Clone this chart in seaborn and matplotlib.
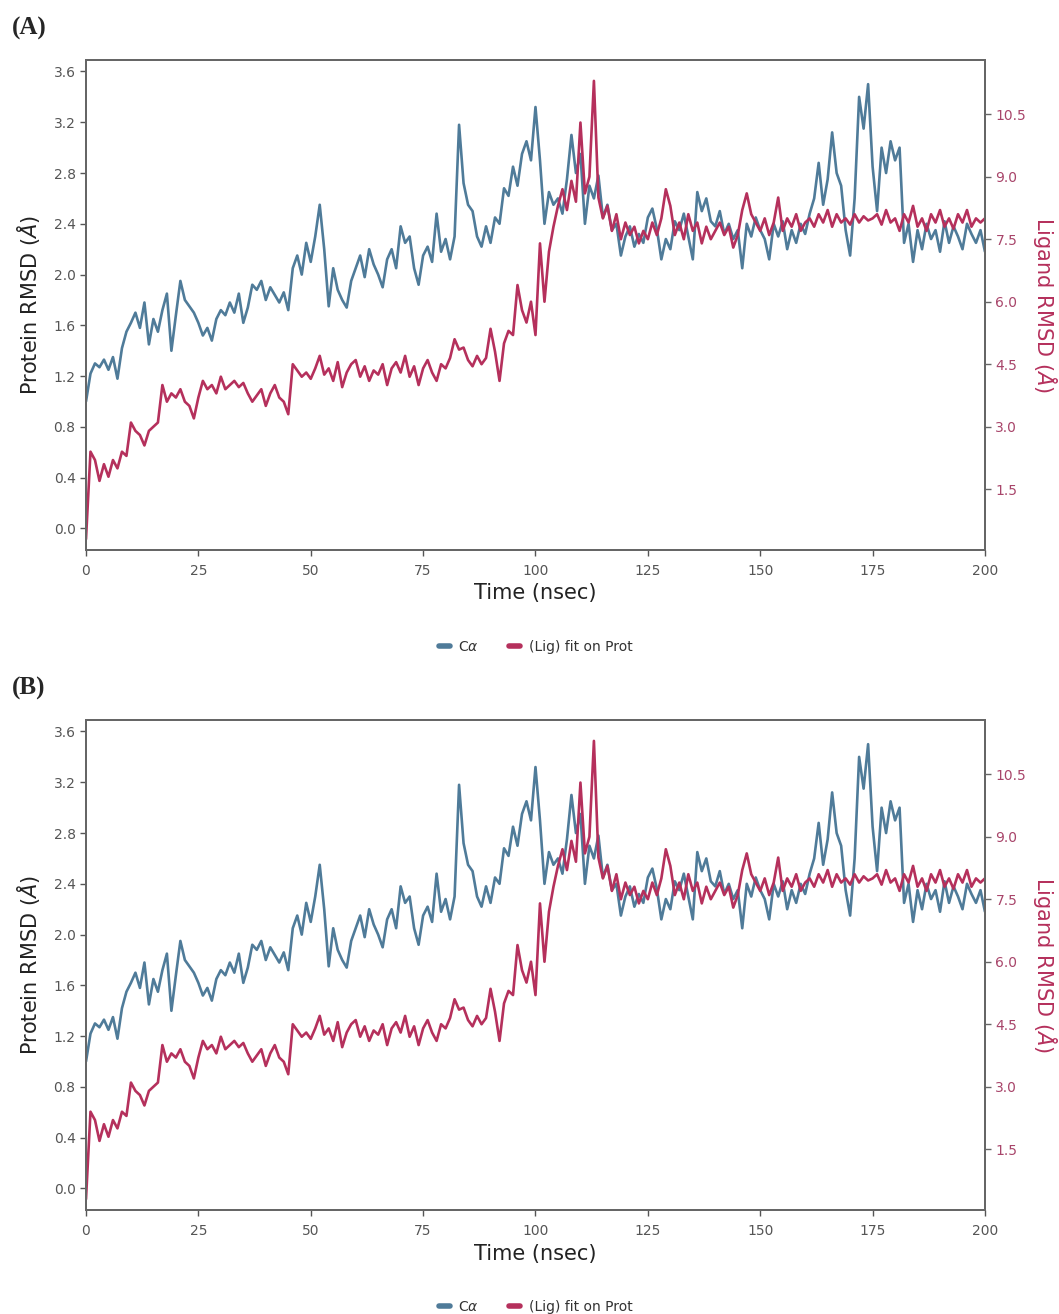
import numpy as np
import pandas as pd
import seaborn as sns
import matplotlib.pyplot as plt

# RMSD traces, one value per nsec (0..200)

time_ns = list(range(0, 201))

protein_rmsd = [
    1.00, 1.22, 1.30, 1.27, 1.33, 1.25, 1.35, 1.18, 1.42, 1.55,
    1.62, 1.70, 1.58, 1.78, 1.45, 1.65, 1.55, 1.72, 1.85, 1.40,
    1.68, 1.95, 1.80, 1.75, 1.70, 1.62, 1.52, 1.58, 1.48, 1.65,
    1.72, 1.68, 1.78, 1.70, 1.85, 1.62, 1.74, 1.92, 1.88, 1.95,
    1.80, 1.90, 1.84, 1.78, 1.86, 1.72, 2.05, 2.15, 2.00, 2.25,
    2.10, 2.30, 2.55, 2.20, 1.75, 2.05, 1.88, 1.80, 1.74, 1.95,
    2.05, 2.15, 1.98, 2.20, 2.08, 2.00, 1.90, 2.12, 2.20, 2.05,
    2.38, 2.25, 2.30, 2.05, 1.92, 2.15, 2.22, 2.10, 2.48, 2.18,
    2.28, 2.12, 2.30, 3.18, 2.72, 2.55, 2.50, 2.30, 2.22, 2.38,
    2.25, 2.45, 2.40, 2.68, 2.62, 2.85, 2.70, 2.95, 3.05, 2.90,
    3.32, 2.90, 2.40, 2.65, 2.55, 2.60, 2.48, 2.75, 3.10, 2.80,
    2.95, 2.40, 2.70, 2.60, 2.78, 2.45, 2.55, 2.35, 2.40, 2.15,
    2.30, 2.38, 2.22, 2.32, 2.25, 2.45, 2.52, 2.36, 2.12, 2.28,
    2.20, 2.42, 2.35, 2.48, 2.30, 2.12, 2.65, 2.50, 2.60, 2.42,
    2.38, 2.50, 2.32, 2.40, 2.28, 2.35, 2.05, 2.40, 2.30, 2.45,
    2.35, 2.28, 2.12, 2.40, 2.30, 2.42, 2.20, 2.35, 2.25, 2.40,
    2.32, 2.48, 2.60, 2.88, 2.55, 2.75, 3.12, 2.80, 2.70, 2.35,
    2.15, 2.60, 3.40, 3.15, 3.50, 2.85, 2.50, 3.00, 2.80, 3.05,
    2.90, 3.00, 2.25, 2.40, 2.10, 2.35, 2.20, 2.40, 2.28, 2.35,
    2.18, 2.42, 2.25, 2.38, 2.30, 2.20, 2.40, 2.32, 2.25, 2.35,
    2.18,
]

ligand_rmsd = [
    0.30, 2.40, 2.20, 1.70, 2.10, 1.80, 2.20, 2.00, 2.40, 2.30,
    3.10, 2.90, 2.80, 2.55, 2.90, 3.00, 3.10, 4.00, 3.60, 3.80,
    3.70, 3.90, 3.60, 3.50, 3.20, 3.70, 4.10, 3.90, 4.00, 3.80,
    4.20, 3.90, 4.00, 4.10, 3.95, 4.05, 3.80, 3.60, 3.75, 3.90,
    3.50, 3.80, 4.00, 3.70, 3.60, 3.30, 4.50, 4.35, 4.20, 4.30,
    4.15, 4.40, 4.70, 4.25, 4.40, 4.10, 4.55, 3.95, 4.30, 4.50,
    4.60, 4.20, 4.45, 4.10, 4.35, 4.25, 4.50, 4.00, 4.40, 4.55,
    4.30, 4.70, 4.20, 4.45, 4.00, 4.40, 4.60, 4.30, 4.10, 4.50,
    4.40, 4.65, 5.10, 4.85, 4.90, 4.60, 4.45, 4.70, 4.50, 4.65,
    5.35, 4.80, 4.10, 5.00, 5.30, 5.20, 6.40, 5.80, 5.50, 6.00,
    5.20, 7.40, 6.00, 7.20, 7.80, 8.30, 8.70, 8.20, 8.90, 8.40,
    10.30, 8.60, 9.00, 11.30, 8.50, 8.00, 8.30, 7.70, 8.10, 7.50,
    7.90, 7.60, 7.80, 7.40, 7.70, 7.50, 7.90, 7.60, 8.00, 8.70,
    8.30, 7.60, 7.90, 7.50, 8.10, 7.70, 7.90, 7.40, 7.80, 7.50,
    7.70, 7.90, 7.60, 7.80, 7.30, 7.60, 8.20, 8.60, 8.10, 7.90,
    7.70, 8.00, 7.60, 7.90, 8.50, 7.70, 8.00, 7.80, 8.10, 7.70,
    7.90, 8.00, 7.80, 8.10, 7.90, 8.20, 7.80, 8.10, 7.90, 8.00,
    7.85, 8.10, 7.90, 8.05, 7.95, 8.00, 8.10, 7.85, 8.20, 7.90,
    8.00, 7.70, 8.10, 7.90, 8.30, 7.80, 8.00, 7.70, 8.10, 7.90,
    8.20, 7.80, 8.00, 7.75, 8.10, 7.90, 8.20, 7.80, 8.00, 7.90,
    8.00,
]

panel_labels = ['(A)', '(B)']
series_labels = [r'C$\alpha$', '(Lig) fit on Prot']

df = pd.DataFrame({'time': time_ns, 'protein': protein_rmsd, 'ligand': ligand_rmsd})

sns.set_style('ticks')
plt.rcParams['font.family'] = ['DejaVu Sans']

blue = '#4f7b99'
red = '#b5305c'
red_text = '#a8456a'
spine_col = '#666666'

fig = plt.figure(figsize=(10.59, 13.14), dpi=100)

# axes boxes (left, bottom, width, height) in figure fraction
boxes = [(0.0812, 0.5814, 0.8489, 0.3729), (0.0812, 0.0791, 0.8489, 0.3729)]

for box, tag in zip(boxes, panel_labels):
    ax = fig.add_axes(box)
    ax2 = ax.twinx()

    sns.lineplot(data=df, x='time', y='protein', ax=ax, color=blue, lw=1.9)
    sns.lineplot(data=df, x='time', y='ligand', ax=ax2, color=red, lw=1.9)

    ax.set_xlim(0, 200)
    ax.set_ylim(-0.17, 3.69)
    ax.set_yticks([0.0, 0.4, 0.8, 1.2, 1.6, 2.0, 2.4, 2.8, 3.2, 3.6])
    ax.set_xticks([0, 25, 50, 75, 100, 125, 150, 175, 200])
    ax2.set_ylim(0.04, 11.8)
    ax2.set_yticks([1.5, 3.0, 4.5, 6.0, 7.5, 9.0, 10.5])

    ax.set_xlabel('Time (nsec)', fontsize=15, color='#222222', labelpad=4)
    ax.set_ylabel(r'Protein RMSD ($\AA$)', fontsize=15, color='#222222', labelpad=8)
    ax2.set_ylabel(r'Ligand RMSD ($\AA$)', fontsize=15, color=red, rotation=270, labelpad=24)

    ax.tick_params(axis='both', labelsize=10, colors='#555555', length=4, width=1)
    ax2.tick_params(axis='y', labelsize=10, colors=spine_col, labelcolor=red_text, length=4, width=1)
    ax.xaxis.set_tick_params(pad=6)

    for a in (ax, ax2):
        for s in a.spines.values():
            s.set_color(spine_col)
            s.set_linewidth(1.4)

    # legend under the panel
    h1 = plt.Line2D([], [], color=blue, lw=4)
    h2 = plt.Line2D([], [], color=red, lw=4)
    if ax2.get_legend() is not None:
        ax2.get_legend().remove()
    ax.legend([h1, h2], series_labels, loc='center', bbox_to_anchor=(0.5, -0.198),
              ncol=2, frameon=False, fontsize=10, handlelength=0.8,
              columnspacing=2.2, handletextpad=0.6, labelcolor='#333333')

    fig.text(0.011, box[1] + box[3] + 0.024, tag, fontsize=18, fontweight='bold',
             family='Liberation Serif', va='center', ha='left')

fig.savefig('out.png', dpi=100)
